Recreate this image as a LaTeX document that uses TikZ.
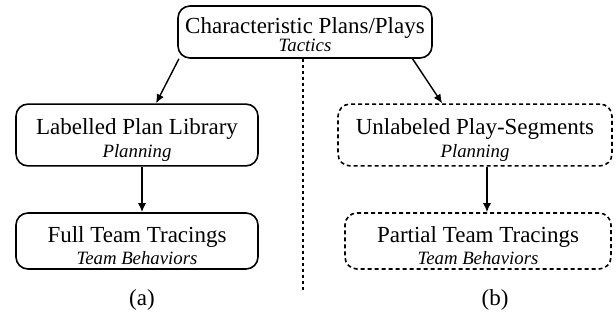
\documentclass[tikz,border=0pt]{standalone}
\usepackage{fontspec}
\setmainfont{Liberation Serif}
\usetikzlibrary{arrows.meta}
\newcommand{\sublabel}[1]{{\fontsize{9.4}{11}\selectfont\itshape #1}}
\newcommand{\pushdown}[1]{\rule{0pt}{#1}}
\tikzset{
  box/.style={rectangle,rounded corners=6pt,draw=black,line width=0.8pt,
              align=center,inner sep=2pt,font=\fontsize{11.5}{12}\selectfont},
  dbox/.style={box,dash pattern=on 2pt off 1.5pt},
  arr/.style={-{Latex[length=4.5pt,width=4pt]},line width=0.7pt},
  sepline/.style={line width=0.8pt,dash pattern=on 1.5pt off 1.5pt},
  subcap/.style={font=\fontsize{11.5}{12}\selectfont},
}
\begin{document}
\begin{tikzpicture}[x=0.5pt,y=-0.5pt]
  \useasboundingbox (0,0) rectangle (616,322);
  \node[box,minimum width=127pt,minimum height=26pt] (tac) at (305,32)
    {\pushdown{11pt}Characteristic Plans/Plays\\[-3pt]\sublabel{Tactics}};
  \node[box,minimum width=121pt,minimum height=30pt] (lib) at (137,135)
    {\pushdown{13.4pt}Labelled Plan Library\\[-0.5pt]\sublabel{Planning}};
  \node[box,minimum width=121pt,minimum height=28pt] (full) at (137,241)
    {\pushdown{12.9pt}Full Team Tracings\\[-1pt]\sublabel{Team Behaviors}};
  \node[dbox,minimum width=137pt,minimum height=30pt] (seg) at (475,135)
    {\pushdown{13.4pt}Unlabeled Play-Segments\\[-0.5pt]\sublabel{Planning}};
  \node[dbox,minimum width=133pt,minimum height=28pt] (part) at (478,241)
    {\pushdown{12.9pt}Partial Team Tracings\\[-1pt]\sublabel{Team Behaviors}};
  % separator between (a) and (b)
  \coordinate (sepend) at (303,290);
  \draw[sepline] ([xshift=-1pt]tac.south) -- (sepend);
  \draw[arr] (tac.192) -- (lib.59);
  \draw[arr] (tac.346) -- (seg.136);
  \draw[arr] ([xshift=2.5pt]lib.south) -- ([xshift=2.5pt]full.north);
  \draw[arr] ([xshift=6pt]seg.south) -- ([xshift=4.5pt]part.north);
  \node[subcap] (capa) at (142,300) {(a)};
  \node[subcap] (capb) at (495,300) {(b)};
\end{tikzpicture}
\end{document}
